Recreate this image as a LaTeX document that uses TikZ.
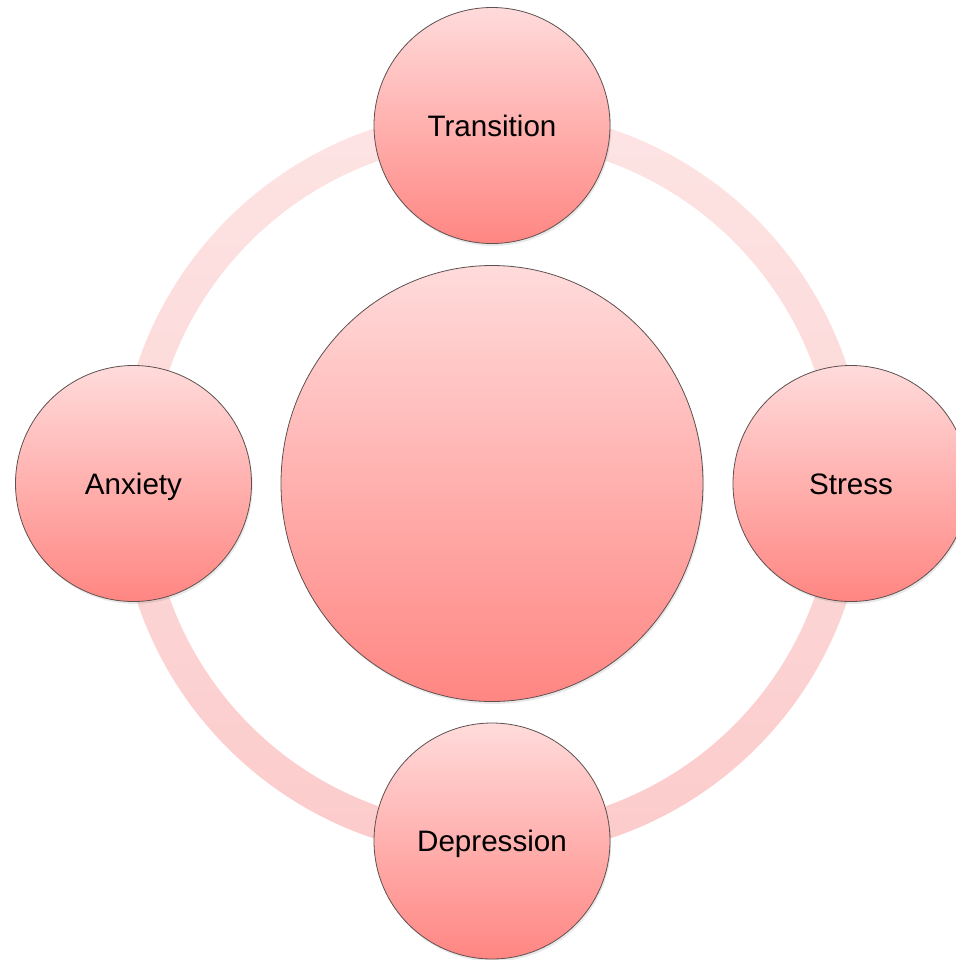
\documentclass[tikz,border=0pt]{standalone}
\usepackage{fontspec}
\setmainfont{Liberation Sans}
\usetikzlibrary{shapes.geometric,shadows}
\definecolor{pinktop}{RGB}{255,219,219}
\definecolor{pinkbot}{RGB}{255,134,130}
\definecolor{ringtop}{RGB}{253,228,228}
\definecolor{ringbot}{RGB}{252,203,203}
\definecolor{rimgray}{RGB}{95,80,80}
\begin{document}
\begin{tikzpicture}[
    x=0.5pt,y=-0.5pt,
    bubble/.style={circle,draw=rimgray,line width=0.4pt,top color=pinktop,bottom color=pinkbot,
        minimum size=118pt,inner sep=0pt,text height=10.6pt,text depth=0pt,
        font=\fontsize{14.8}{17}\selectfont,
        drop shadow={opacity=0.18,shadow xshift=0.6pt,shadow yshift=-1.2pt}},
    hubbox/.style={bubble,ellipse,minimum width=211pt,minimum height=218pt}
]
\useasboundingbox (0,0) rectangle (955,960);
\coordinate (mid) at (492,483.5);
% ring behind the circles
\shade[top color=ringtop,bottom color=ringbot,even odd rule]
    (mid) circle[radius=187pt] (mid) circle[radius=171pt];
\node[hubbox] (hub) at (mid) {};
\node[bubble] (trans) at (492,125.5) {Transition};
\node[bubble] (stress) at (851,483.5) {Stress};
\node[bubble] (depr) at (492,841) {Depression};
\node[bubble] (anx) at (133.5,483.5) {Anxiety};
\end{tikzpicture}
\end{document}
